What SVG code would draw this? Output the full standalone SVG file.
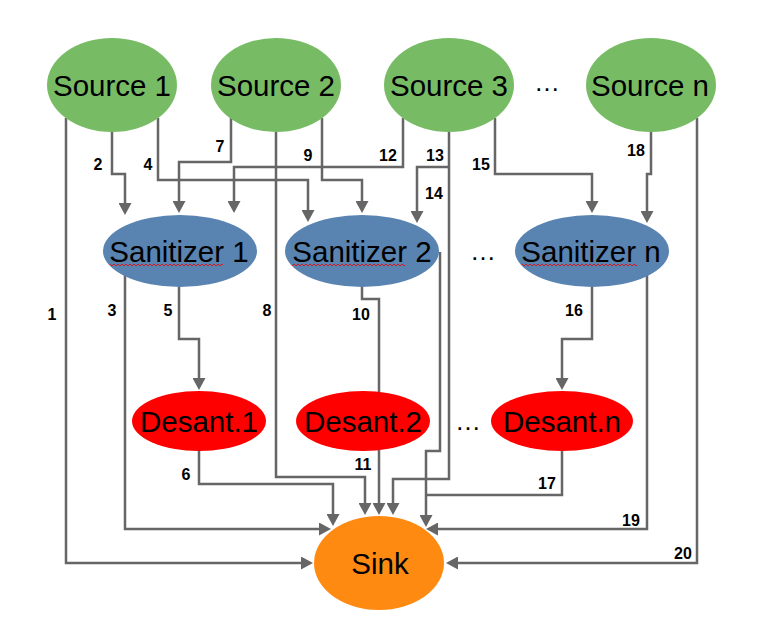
<svg xmlns="http://www.w3.org/2000/svg" width="783" height="631" viewBox="0 0 783 631">
<style>
.edge{fill:none;stroke:#666666;stroke-width:2.5;stroke-linejoin:miter}
.arr{marker-end:url(#arrow)}
.lbl{font-family:"Liberation Sans",Arial,sans-serif;font-weight:bold;font-size:16px;fill:#000;text-anchor:middle}
.nt{font-family:"Liberation Sans",Arial,sans-serif;font-size:29.5px;fill:#000;text-anchor:middle}
.dots{font-family:"Liberation Sans",Arial,sans-serif;font-size:26px;fill:#000;text-anchor:middle}
.src{fill:#77bc65}
.san{fill:#5983b0}
.des{fill:#ff0000}
.sink{fill:#ff8a12}
</style>
<defs>
<marker id="arrow" viewBox="0 0 12 13" refX="6" refY="6.5" markerWidth="12" markerHeight="13" markerUnits="userSpaceOnUse" orient="auto">
<path d="M0,0 L12,6.5 L0,13 z" fill="#666666"/>
</marker>
<pattern id="wave" x="0" y="263" width="4" height="4" patternUnits="userSpaceOnUse">
<polyline points="0,3 2,1 4,3" fill="none" stroke="#e01010" stroke-width="0.9"/>
</pattern>
</defs>
<rect width="783" height="631" fill="#ffffff"/>
<g id="connectors">
<path id="e1" class="edge arr" d="M66,118 V563 H307"/>
<path id="e2" class="edge arr" d="M112,132 V174 H125 V209"/>
<path id="e3" class="edge arr" d="M125,270 V529 H325"/>
<path id="e4" class="edge arr" d="M158,118 V180 H308 V216"/>
<path id="e5" class="edge arr" d="M179,287 V339 H199 V384"/>
<path id="e6" class="edge arr" d="M199,450 V484 H333 V520"/>
<path id="e7" class="edge arr" d="M231,118 V162 H179 V207"/>
<path id="e8" class="edge arr" d="M276,132 V477 H365 V509"/>
<path id="e9" class="edge arr" d="M322,118 V180 H362 V207"/>
<path id="e10" class="edge" d="M362,287 V299 H379 V392"/>
<path id="e11" class="edge arr" d="M379,450 V509"/>
<path id="e12" class="edge arr" d="M403,118 V167 H234 V207"/>
<path id="e13" class="edge arr" d="M449,132 V479 H393 V509"/>
<path id="e14" class="edge arr" d="M449,167 H417 V217"/>
<path id="e15" class="edge arr" d="M495,118 V174 H592 V207"/>
<path id="e16" class="edge arr" d="M592,287 V339 H562 V384"/>
<path id="e17" class="edge" d="M562,450 V495 H426"/>
<path id="e2s" class="edge arr" d="M440,252 V451 H426 V521"/>
<path id="e18" class="edge arr" d="M651,132 V174 H647 V217"/>
<path id="e19" class="edge arr" d="M647,270 V529 H432"/>
<path id="e20" class="edge arr" d="M697,118 V563 H452"/>
</g>
<g id="labels">
<text class="lbl" x="52" y="320">1</text>
<text class="lbl" x="98" y="170">2</text>
<text class="lbl" x="112" y="316">3</text>
<text class="lbl" x="148" y="170">4</text>
<text class="lbl" x="168" y="316">5</text>
<text class="lbl" x="186" y="480">6</text>
<text class="lbl" x="220" y="152">7</text>
<text class="lbl" x="267" y="316">8</text>
<text class="lbl" x="308" y="161">9</text>
<text class="lbl" x="361" y="320">10</text>
<text class="lbl" x="363" y="470">11</text>
<text class="lbl" x="388" y="161">12</text>
<text class="lbl" x="435" y="161">13</text>
<text class="lbl" x="434" y="199">14</text>
<text class="lbl" x="481" y="170">15</text>
<text class="lbl" x="574" y="316">16</text>
<text class="lbl" x="547" y="489">17</text>
<text class="lbl" x="636" y="156">18</text>
<text class="lbl" x="631" y="526">19</text>
<text class="lbl" x="683" y="559">20</text>
</g>
<g id="source1"><ellipse class="src" cx="112" cy="85" rx="65" ry="47"/><text class="nt" x="112" y="95.5">Source 1</text></g>
<g id="source2"><ellipse class="src" cx="276" cy="85" rx="65" ry="47"/><text class="nt" x="276" y="95.5">Source 2</text></g>
<g id="source3"><ellipse class="src" cx="449" cy="85" rx="65" ry="47"/><text class="nt" x="449" y="95.5">Source 3</text></g>
<g id="sourcen"><ellipse class="src" cx="651" cy="85" rx="65" ry="47"/><text class="nt" x="650" y="95.5">Source n</text></g>
<g id="sanitizer1"><ellipse class="san" cx="180" cy="251" rx="77" ry="36"/><text class="nt" x="179" y="262">Sanitizer 1</text><rect x="110" y="264" width="113" height="4" fill="url(#wave)"/></g>
<g id="sanitizer2"><ellipse class="san" cx="362" cy="251" rx="77" ry="36"/><text class="nt" x="362" y="262">Sanitizer 2</text><rect x="292" y="264" width="113" height="4" fill="url(#wave)"/></g>
<g id="sanitizern"><ellipse class="san" cx="592" cy="251" rx="77" ry="36"/><text class="nt" x="591" y="262">Sanitizer n</text><rect x="522" y="264" width="115" height="4" fill="url(#wave)"/></g>
<g id="desant1"><ellipse class="des" cx="199" cy="421" rx="67" ry="30"/><text class="nt" x="199" y="431.5">Desant.1</text></g>
<g id="desant2"><ellipse class="des" cx="363" cy="421" rx="67" ry="30"/><text class="nt" x="363" y="431.5">Desant.2</text></g>
<g id="desantn"><ellipse class="des" cx="562" cy="421" rx="71" ry="30"/><text class="nt" x="562" y="431.5">Desant.n</text></g>
<g id="sink"><ellipse class="sink" cx="379" cy="563" rx="65" ry="47"/><text class="nt" x="380" y="574">Sink</text></g>
<g id="ellipses-dots">
<text class="dots" x="547" y="91">…</text>
<text class="dots" x="483" y="260">…</text>
<text class="dots" x="468" y="430">…</text>
</g>
</svg>
